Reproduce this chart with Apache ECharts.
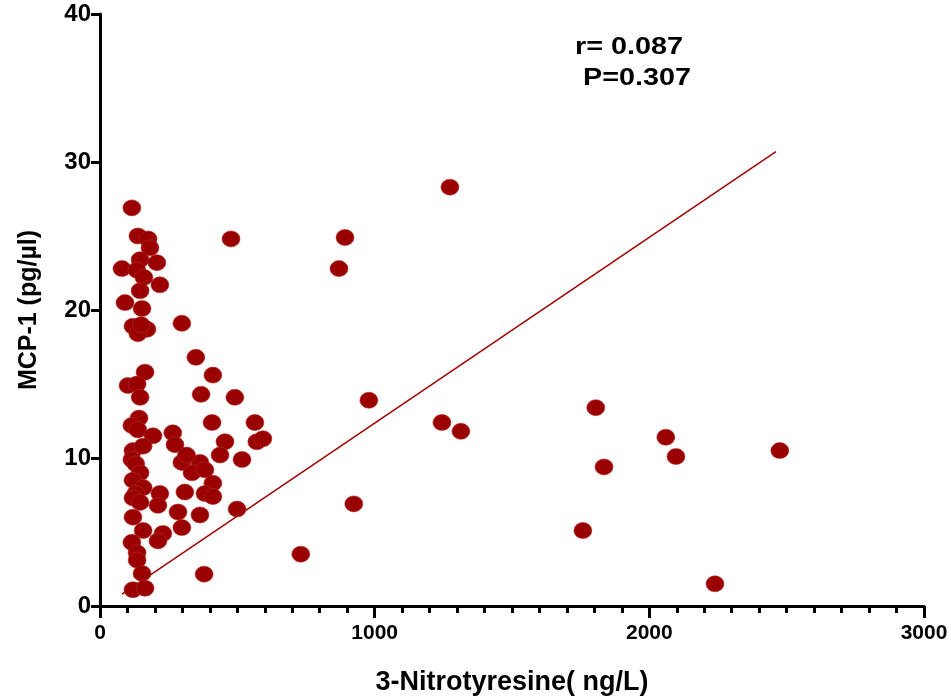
<!DOCTYPE html>
<html>
<head>
<meta charset="utf-8">
<script src="https://cdn.jsdelivr.net/npm/echarts@6/dist/echarts.min.js"></script>
<style>
html, body { margin: 0; padding: 0; background: #fff; }
#main { width: 951px; height: 697px; }
</style>
</head>
<body>
<div id="main"></div>
<script>
// 3-Nitrotyresine (ng/L) vs MCP-1 (pg/µl)
var xTicks = [0, 1000, 2000, 3000];
var yTicks = [0, 10, 20, 30, 40];

// dense band near the y axis
var bandPoints = [
  [116, 26.9], [138, 25.0], [175, 24.8], [182, 24.2], [80, 22.8], [146, 23.4],
  [207, 23.2], [134, 22.7], [160, 22.2], [218, 21.7], [146, 21.3], [91, 20.5],
  [153, 20.1], [120, 18.9], [171, 18.7], [138, 18.4], [150, 19.0], [164, 15.8],
  [102, 14.9], [135, 15.0], [146, 14.1], [142, 12.7], [116, 12.2], [138, 11.9],
  [193, 11.5], [120, 10.5], [157, 10.8], [116, 9.9], [130, 9.6], [146, 9.0],
  [120, 8.5], [157, 8.0], [130, 7.6], [218, 7.6], [120, 7.3], [146, 7.0],
  [211, 6.8], [120, 6.0], [157, 5.1], [229, 4.9], [211, 4.4], [116, 4.3],
  [135, 3.6], [135, 3.1], [153, 2.2], [120, 1.1], [164, 1.2]
];

// second group, 250-600 ng/L
var midPoints = [
  [477, 24.8], [298, 19.1], [349, 16.8], [411, 15.6], [368, 14.3], [491, 14.1],
  [408, 12.4], [564, 12.4], [265, 11.7], [273, 10.9], [455, 11.1], [437, 10.2],
  [517, 9.9], [571, 11.1], [593, 11.3], [298, 9.7], [364, 9.7], [335, 9.0],
  [382, 9.2], [411, 8.3], [309, 7.7], [382, 7.6], [411, 7.4], [284, 6.35],
  [364, 6.15], [499, 6.55], [298, 5.3], [379, 2.15], [315, 10.2]
];

// scattered high values
var farPoints = [
  [1274, 28.3], [892, 24.9], [870, 22.8], [979, 13.9], [1245, 12.4], [1314, 11.8],
  [1805, 13.4], [1835, 9.4], [2060, 11.4], [2097, 10.1], [2475, 10.5], [1758, 5.1],
  [2239, 1.5], [924, 6.9], [731, 3.5]
];

// fitted line end points
var fitLine = [[80, 0.8], [2461, 30.7]];

var allPoints = bandPoints.concat(midPoints, farPoints);

var myChart = echarts.init(document.getElementById('main'));

var boldFont = 'Liberation Sans, Arial, sans-serif';

option = {
  backgroundColor: '#fff',
  animation: false,
  grid: { left: 100, right: 27, top: 14, bottom: 91, outerBoundsMode: 'none' },
  xAxis: {
    type: 'value',
    min: xTicks[0],
    max: xTicks[xTicks.length - 1],
    interval: 1000,
    name: '3-Nitrotyresine( ng/L)',
    nameLocation: 'middle',
    nameGap: 63,
    nameTextStyle: { color: '#000', fontWeight: 'bold', fontSize: 27, fontFamily: boldFont },
    axisLine: { show: true, lineStyle: { color: '#000', width: 3 } },
    axisTick: { show: true, length: 12, lineStyle: { color: '#000', width: 3 } },
    minorTick: { show: true, splitNumber: 10, length: 7, lineStyle: { color: '#000', width: 3 } },
    axisLabel: {
      color: '#000', fontWeight: 'bold', fontSize: 21, fontFamily: boldFont, margin: 17,
      formatter: function (v) { return String(v); }
    },
    splitLine: { show: false }
  },
  yAxis: {
    type: 'value',
    min: yTicks[0],
    max: yTicks[yTicks.length - 1],
    interval: 10,
    name: 'MCP-1 (pg/µl)',
    nameLocation: 'middle',
    nameGap: 58,
    nameTextStyle: { color: '#000', fontWeight: 'bold', fontSize: 25, fontFamily: boldFont },
    axisLine: { show: true, lineStyle: { color: '#000', width: 3 } },
    axisTick: { show: true, length: 9, lineStyle: { color: '#000', width: 3 } },
    axisLabel: { color: '#000', fontWeight: 'bold', fontSize: 24, fontFamily: boldFont, margin: 9 },
    splitLine: { show: false }
  },
  graphic: [
    {
      type: 'text', x: 575, y: 35, scaleX: 1.2,
      style: { text: 'r= 0.087', fill: '#000', font: 'bold 24px Liberation Sans, Arial, sans-serif' }
    },
    {
      type: 'text', x: 583, y: 66, scaleX: 1.2,
      style: { text: 'P=0.307', fill: '#000', font: 'bold 24px Liberation Sans, Arial, sans-serif' }
    }
  ],
  series: [
    {
      type: 'line',
      data: fitLine,
      symbol: 'none',
      lineStyle: { color: '#a00000', width: 1.5 },
      z: 3
    },
    {
      type: 'scatter',
      data: allPoints,
      symbol: 'circle',
      symbolSize: [18, 16],
      itemStyle: { color: '#9b0000', borderColor: '#b03030', borderWidth: 0.6, opacity: 1 },
      z: 4
    }
  ]
};

myChart.setOption(option);
</script>
</body>
</html>
